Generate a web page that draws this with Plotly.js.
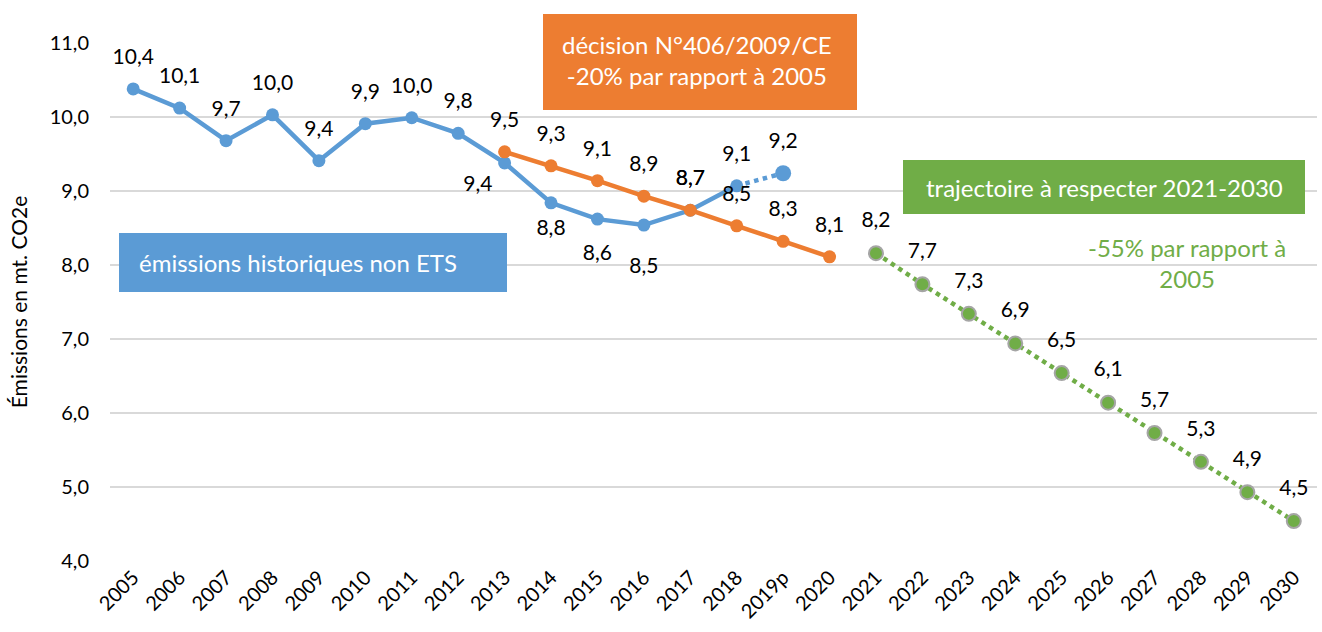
<!DOCTYPE html>
<html><head><meta charset="utf-8">
<script src="https://cdn.plot.ly/plotly-3.0.1.min.js"></script>
<style>html,body{margin:0;padding:0;background:#fff}#c{width:1322px;height:632px}</style>
</head><body><div id="c"></div>
<script>
const categories = ['2005','2006','2007','2008','2009','2010','2011','2012','2013','2014','2015','2016','2017','2018','2019p','2020','2021','2022','2023','2024','2025','2026','2027','2028','2029','2030'];
const histYears = ['2005','2006','2007','2008','2009','2010','2011','2012','2013','2014','2015','2016','2017','2018'];
const histValues = [10.38,10.12,9.68,10.03,9.41,9.91,9.99,9.78,9.38,8.84,8.62,8.54,8.74,9.07];
const histLabelPos = ['top center','top center','top center','top center','top center','top center','top center','top center','bottom left','bottom center','bottom center','bottom center','top center','top center'];
const provYears = ['2018','2019p'];
const provValues = [9.07,9.24];
const targetYears = ['2013','2014','2015','2016','2017','2018','2019p','2020'];
const targetValues = [9.53,9.34,9.14,8.93,8.74,8.53,8.32,8.11];
const trajYears = ['2021','2022','2023','2024','2025','2026','2027','2028','2029','2030'];
const trajValues = [8.16,7.74,7.34,6.94,6.54,6.14,5.73,5.34,4.93,4.54];

const BLUE='#5B9BD5', ORANGE='#ED7D31', GREEN='#70AD47';
const FONT='Lato, "Open Sans", sans-serif';
const lblFont={family:FONT,size:21,color:'#000'};

function labels(x,y,pos,size){
 return {x:x,y:y,type:'scatter',mode:'markers+text',marker:{size:size,opacity:0,color:'#fff'},
  texttemplate:'%{y:.1f}',textposition:pos,textfont:lblFont,cliponaxis:false,hoverinfo:'skip'};
}
// label offsets (spacing of the data labels from their points)
const histLabelGap = [30,30,30,30,30,30,30,30,18,24,38,50,30,30];

const traces=[
 {x:provYears,y:provValues,type:'scatter',mode:'lines',
  line:{color:BLUE,width:4.5,dash:'dot'},hoverinfo:'skip'},
 {x:[provYears[1]],y:[provValues[1]],type:'scatter',mode:'markers',
  marker:{color:BLUE,size:16,opacity:1},cliponaxis:false,hoverinfo:'skip'},
 {x:histYears,y:histValues,type:'scatter',mode:'lines+markers',
  line:{color:BLUE,width:4.5},marker:{color:BLUE,size:13,opacity:1},cliponaxis:false,hoverinfo:'skip'},
 {x:targetYears,y:targetValues,type:'scatter',mode:'lines+markers',
  line:{color:ORANGE,width:4.5},marker:{color:ORANGE,size:13,opacity:1},cliponaxis:false,hoverinfo:'skip'},
 {x:trajYears,y:trajValues,type:'scatter',mode:'lines+markers',
  line:{color:GREEN,width:4.5,dash:'dot'},marker:{color:GREEN,size:14,opacity:1,line:{color:'#A5A5A5',width:2}},cliponaxis:false,hoverinfo:'skip'},
 labels(histYears,histValues,histLabelPos,histLabelGap),
 labels([provYears[1]],[provValues[1]],'top center',30),
 labels(targetYears,targetValues,'top center',30),
 labels(trajYears,trajValues,'top center',32)
];

function px(x){return (x-110)/1207;}
function py(y){return (561-y)/518;}

const boxFont={family:FONT,size:24,color:'#fff'};
const layout={
 width:1322,height:632,
 margin:{l:110,r:5,t:43,b:71},
 paper_bgcolor:'#fff',plot_bgcolor:'#fff',
 separators:', ',
 showlegend:false,
 font:{family:FONT,size:20,color:'#000'},
 xaxis:{type:'category',categoryorder:'array',categoryarray:categories,range:[-0.5,25.5],
  tickangle:-45,showgrid:false,zeroline:false,showline:false,ticks:'',
  tickfont:{family:FONT,size:20,color:'#000'}},
 yaxis:{range:[4,11],dtick:1,tickformat:'.1f',showgrid:true,gridcolor:'#D9D9D9',gridwidth:1.5,
  zeroline:false,showline:false,ticks:'',ticklabelstandoff:20,
  tickfont:{family:FONT,size:20,color:'#000'},
  title:{text:'Émissions en mt. CO2e',font:{family:FONT,size:21,color:'#000'},standoff:16}},
 shapes:[
  {type:'rect',xref:'paper',yref:'paper',x0:px(543),x1:px(857),y0:py(110),y1:py(14),fillcolor:ORANGE,line:{width:0},layer:'above'},
  {type:'rect',xref:'paper',yref:'paper',x0:px(119),x1:px(507),y0:py(292),y1:py(233),fillcolor:BLUE,line:{width:0},layer:'above'},
  {type:'rect',xref:'paper',yref:'paper',x0:px(903),x1:px(1305),y0:py(214),y1:py(160),fillcolor:GREEN,line:{width:0},layer:'above'}
 ],
 annotations:[
  {xref:'paper',yref:'paper',x:px(697),y:py(60),text:'décision N°406/2009/CE<br>-20% par rapport à 2005',showarrow:false,
   font:boxFont,align:'center',xanchor:'center',yanchor:'middle'},
  {xref:'paper',yref:'paper',x:px(137),y:py(262),text:'émissions historiques non ETS',showarrow:false,
   font:boxFont,xanchor:'left',yanchor:'middle'},
  {xref:'paper',yref:'paper',x:px(1104),y:py(187),text:'trajectoire à respecter 2021-2030',showarrow:false,
   font:boxFont,xanchor:'center',yanchor:'middle'},
  {xref:'paper',yref:'paper',x:px(1187),y:py(263),text:'-55% par rapport à<br>2005',showarrow:false,
   font:{family:FONT,size:24,color:GREEN},align:'center',xanchor:'center',yanchor:'middle'}
 ]
};
Plotly.newPlot('c',traces,layout,{displayModeBar:false,staticPlot:true});
</script></body></html>
